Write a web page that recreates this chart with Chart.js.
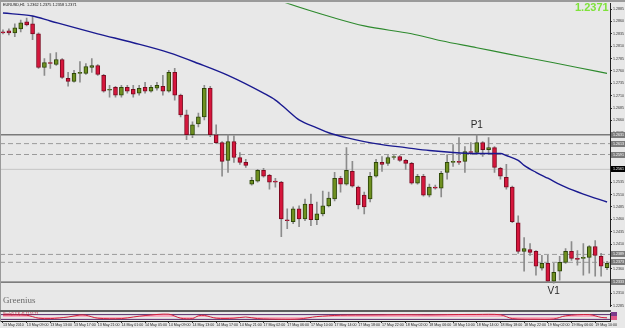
<!DOCTYPE html>
<html><head><meta charset="utf-8">
<script src="https://cdn.jsdelivr.net/npm/chart.js@4"></script>
<style>
html,body{margin:0;padding:0;background:#e8e8e8;width:625px;height:328px;overflow:hidden;position:relative;}
#main{position:absolute;left:0;top:0;}
#sub{position:absolute;left:0;top:310px;}
#topband{position:absolute;left:0;top:0;width:625px;height:2px;background:#9a9a9a;z-index:2;}
#leftband{position:absolute;left:0;top:0;width:1px;height:322px;background:#9a9a9a;z-index:2;}
#sep{position:absolute;left:0;top:310px;width:611px;height:2px;background:#5e5e5e;z-index:2;}
.t{position:absolute;white-space:nowrap;z-index:3;}
#last{left:575px;top:1px;font:bold 11px "Liberation Sans",Arial,sans-serif;color:#7ee23a;}
#sig{left:3px;top:295px;font:9px "Liberation Serif","DejaVu Serif",serif;color:#6a6a6a;}
</style></head>
<body>
<canvas id="main" width="625" height="310"></canvas>
<canvas id="sub" width="625" height="18"></canvas>
<div id="topband"></div><div id="leftband"></div><div id="sep"></div>
<div class="t" id="last">1.2371</div>
<div class="t" id="sig">Greenius</div>
<script>
// ---- data ----
const opens  = [1.2839,1.2841,1.2837,1.2845,1.2859,1.2855,1.2835,1.2767,1.2777,1.2773,1.2783,1.2745,1.2739,1.2755,1.2755,1.2767,1.2771,1.2751,1.2721,1.2727,1.2711,1.2727,1.2723,1.2715,1.2727,1.2719,1.2725,1.2729,1.2719,1.2757,1.2711,1.2671,1.2631,1.2653,1.2667,1.2725,1.2631,1.2615,1.2579,1.2617,1.2585,1.2575,1.2531,1.2537,1.2559,1.2549,1.2537,1.2535,1.2459,1.2455,1.2481,1.2461,1.2491,1.2459,1.2471,1.2487,1.2501,1.2543,1.2531,1.2557,1.2525,1.2509,1.2501,1.2547,1.2575,1.2573,1.2585,1.2587,1.2579,1.2573,1.2533,1.2547,1.2509,1.2525,1.2523,1.2555,1.2575,1.2577,1.2577,1.2597,1.2595,1.2615,1.2601,1.2605,1.2563,1.2545,1.2525,1.2453,1.2395,1.2399,1.2395,1.2361,1.2371,1.2335,1.2355,1.2373,1.2395,1.2381,1.2381,1.2383,1.2405,1.2385,1.2362];
const highs  = [1.2843,1.2845,1.2855,1.2863,1.2867,1.2871,1.2837,1.2785,1.2795,1.2797,1.2785,1.2757,1.2761,1.2779,1.2775,1.2785,1.2773,1.2753,1.2731,1.2729,1.2731,1.2731,1.2731,1.2731,1.2737,1.2731,1.2737,1.2751,1.2761,1.2765,1.2713,1.2681,1.2657,1.2675,1.2731,1.2729,1.2651,1.2617,1.2631,1.2629,1.2595,1.2581,1.2545,1.2561,1.2563,1.2551,1.2543,1.2537,1.2481,1.2485,1.2487,1.2501,1.2511,1.2495,1.2517,1.2515,1.2555,1.2547,1.2605,1.2577,1.2527,1.2515,1.2555,1.2581,1.2587,1.2589,1.2589,1.2589,1.2581,1.2575,1.2551,1.2551,1.2531,1.2529,1.2557,1.2591,1.2611,1.2625,1.2607,1.2615,1.2631,1.2617,1.2625,1.2607,1.2565,1.2571,1.2527,1.2467,1.2423,1.2411,1.2397,1.2387,1.2387,1.2371,1.2385,1.2401,1.2415,1.2397,1.2411,1.2407,1.2417,1.2391,1.2375];
const lows   = [1.2835,1.2833,1.2829,1.2839,1.2851,1.2823,1.2765,1.2751,1.2765,1.2771,1.2745,1.2729,1.2737,1.2737,1.2753,1.2757,1.2751,1.2717,1.2707,1.2707,1.2707,1.2715,1.2707,1.2711,1.2715,1.2717,1.2721,1.2711,1.2717,1.2701,1.2667,1.2621,1.2625,1.2647,1.2661,1.2627,1.2613,1.2547,1.2555,1.2575,1.2571,1.2565,1.2529,1.2535,1.2545,1.2521,1.2525,1.2425,1.2441,1.2451,1.2445,1.2457,1.2447,1.2449,1.2467,1.2485,1.2497,1.2515,1.2529,1.2525,1.2481,1.2471,1.2495,1.2545,1.2557,1.2569,1.2581,1.2577,1.2561,1.2531,1.2531,1.2507,1.2505,1.2521,1.2505,1.2541,1.2567,1.2571,1.2555,1.2591,1.2591,1.2587,1.2591,1.2555,1.2541,1.2521,1.2453,1.2391,1.2355,1.2387,1.2347,1.2357,1.2333,1.2331,1.2337,1.2371,1.2377,1.2367,1.2347,1.2351,1.2345,1.2345,1.2358];
const closes = [1.2837,1.2837,1.2847,1.2857,1.2853,1.2835,1.2767,1.2777,1.2775,1.2783,1.2747,1.2739,1.2755,1.2757,1.2769,1.2771,1.2753,1.2719,1.2723,1.2711,1.2727,1.2719,1.2713,1.2725,1.2719,1.2727,1.2731,1.2719,1.2757,1.2711,1.2671,1.2631,1.2651,1.2667,1.2725,1.2631,1.2615,1.2577,1.2617,1.2585,1.2575,1.2569,1.2539,1.2559,1.2547,1.2535,1.2535,1.2461,1.2457,1.2481,1.2461,1.2491,1.2459,1.2471,1.2487,1.2503,1.2543,1.2531,1.2559,1.2527,1.2489,1.2485,1.2547,1.2575,1.2571,1.2585,1.2587,1.2579,1.2573,1.2533,1.2547,1.2509,1.2525,1.2523,1.2553,1.2575,1.2577,1.2575,1.2597,1.2595,1.2615,1.2601,1.2605,1.2565,1.2547,1.2525,1.2455,1.2395,1.2401,1.2393,1.2365,1.2371,1.2335,1.2353,1.2373,1.2395,1.2381,1.2379,1.2383,1.2405,1.2387,1.2365,1.2371];

const timeLabels = ["13 May 2010","13 May 09:00","13 May 13:00","13 May 17:00","13 May 21:00","14 May 01:00","14 May 05:00","14 May 09:00","14 May 13:00","14 May 17:00","14 May 21:00","17 May 02:00","17 May 06:00","17 May 10:00","17 May 14:00","17 May 18:00","17 May 22:00","18 May 02:00","18 May 06:00","18 May 10:00","18 May 14:00","18 May 18:00","18 May 22:00","19 May 02:00","19 May 06:00","19 May 10:00"];

const priceTicks = [1.2285,1.2310,1.2335,1.2360,1.2385,1.2410,1.2435,1.2460,1.2485,1.2510,1.2535,1.2560,1.2585,1.2610,1.2635,1.2660,1.2685,1.2710,1.2735,1.2760,1.2785,1.2810,1.2835,1.2860,1.2885];

// moving averages read at candle positions
const blueMAIdx = [0,5,8,16,22,28,33,38,44,46,48,50,53,55,58,61,64,68,72,76,80,84,85,87,88,90,92,95,98,102];
const blueMAVal = [1.2877,1.2871,1.2861,1.2835,1.2817,1.2797,1.2775,1.2751,1.2715,1.2701,1.2681,1.2661,1.2645,1.2635,1.2625,1.2617,1.2611,1.2605,1.2599,1.2595,1.2593,1.2593,1.2589,1.2579,1.2569,1.2555,1.2543,1.2525,1.2511,1.2495];
const greenMAIdx = [44,47,56,61,69,74,80,85,91,97,102];
const greenMAVal = [1.2915,1.2901,1.2867,1.2851,1.2835,1.2821,1.2807,1.2795,1.2781,1.2767,1.2755];

// horizontal levels
const levelPrices = [1.2631,1.2613,1.2591,1.2561,1.2389,1.2373,1.2333];

// annotations
const markText  = ["P1","V1"];
const markIndex = [80,93];

// sub-window oscillator
const oscIdx = [0,4,6,8,11,13,14,16,20,22,24,28,30,32,33,34,36,39,41,43,47,50,53,57,62,68,72,76,80,84,86,90,93,95,99,101,102];
const oscVal = [75,72,35,30,50,75,72,35,30,50,68,85,35,30,65,70,35,35,50,30,22,25,55,72,75,78,76,80,82,78,30,22,25,65,80,45,40];
const oscLevels = [80,20];

const headerText = "EURUSD,H1  1.2362 1.2375 1.2358 1.2371";
const subText = "Stoch(5,3,3) 41.12 51.27";

// ---- styles ----
const GREEN='#6f9020', GREEN_B='#2c4608', RED='#d6163c', RED_B='#7c0a20', WICK='#8c8c8c';
const levelStyle = [
  {c:'#7a7a7a',w:1.5,d:[]},{c:'#9a9a9a',w:1,d:[5,3]},{c:'#9a9a9a',w:1,d:[5,3]},
  {c:'#c4c4c4',w:1,d:[]},{c:'#9a9a9a',w:1,d:[5,3]},{c:'#9a9a9a',w:1,d:[5,3]},{c:'#5a5a5a',w:1.3,d:[]}];
const levelBox = ['#7a7a7a','#7a7a7a','#7a7a7a','#000000','#7a7a7a','#7a7a7a','#7a7a7a'];

const idx = opens.map((_,i)=>i);
const up = idx.map(i=>closes[i]>=opens[i]);
const XMIN=-0.5, XMAX=102.5;

const levelSets = levelPrices.map((p,k)=>({
  type:'line', data:[{x:XMIN,y:p},{x:XMAX,y:p}], borderColor:levelStyle[k].c,
  borderWidth:levelStyle[k].w, borderDash:levelStyle[k].d, pointRadius:0, order:5
}));

const overlay = {
  id:'overlay',
  afterDraw(chart){
    const ctx=chart.ctx, ys=chart.scales.y, xs=chart.scales.x;
    ctx.save();
    ctx.font='3.6px "Liberation Sans"';
    ctx.textBaseline='middle'; ctx.textAlign='left';
    levelPrices.forEach((p,k)=>{
      const py=ys.getPixelForValue(p);
      ctx.fillStyle=levelBox[k];
      ctx.fillRect(611,Math.round(py)-3,14,6);
      ctx.fillStyle='#ffffff';
      ctx.fillText(p.toFixed(4),613,py);
    });
    ctx.font='10px "Liberation Sans"'; ctx.fillStyle='#2a2a2a'; ctx.textAlign='center';
    ctx.textBaseline='bottom';
    ctx.fillText(markText[0], xs.getPixelForValue(markIndex[0]), ys.getPixelForValue(highs[markIndex[0]])-4);
    ctx.textBaseline='top';
    ctx.fillText(markText[1], xs.getPixelForValue(markIndex[1]), ys.getPixelForValue(lows[markIndex[1]])+3);
    ctx.font='3.8px "Liberation Sans"'; ctx.fillStyle='#111'; ctx.textAlign='left'; ctx.textBaseline='top';
    ctx.fillText(headerText,3,3);
    ctx.restore();
  }
};

new Chart(document.getElementById('main'),{
  data:{datasets:[
    {type:'line', data:blueMAIdx.map((x,i)=>({x,y:blueMAVal[i]})), borderColor:'#1a1a90', borderWidth:1.4, pointRadius:0, cubicInterpolationMode:'monotone', order:0},
    {type:'line', data:greenMAIdx.map((x,i)=>({x,y:greenMAVal[i]})), borderColor:'#2e8a2e', borderWidth:1.1, pointRadius:0, cubicInterpolationMode:'monotone', order:0},
    {type:'bar', data:idx.map(i=>({x:i,y:[opens[i],closes[i]]})), backgroundColor:idx.map(i=>up[i]?GREEN:RED),
     borderColor:idx.map(i=>up[i]?GREEN_B:RED_B), borderWidth:1, borderSkipped:false, barThickness:4, minBarLength:1, grouped:false, order:1},
    {type:'bar', data:idx.map(i=>({x:i,y:[lows[i],highs[i]]})), backgroundColor:WICK, borderWidth:0, barThickness:1, grouped:false, order:2},
    ...levelSets
  ]},
  options:{
    animation:false, responsive:false, devicePixelRatio:1,
    layout:{padding:{top:2,left:0,right:0,bottom:1}},
    plugins:{legend:{display:false},tooltip:{enabled:false}},
    scales:{
      x:{type:'linear',min:XMIN,max:XMAX,offset:false,display:false},
      y:{position:'right',min:1.2283,max:1.2897,
        afterBuildTicks:s=>{s.ticks=priceTicks.map(v=>({value:v}));},
        afterFit:s=>{s.width=15;},
        ticks:{autoSkip:false,padding:1,color:'#333',font:{size:3.6,family:'Liberation Sans'},callback:v=>Number(v).toFixed(4)},
        grid:{drawOnChartArea:false,drawTicks:true,tickLength:2,color:'#333'},
        border:{display:true,color:'#222',width:1}}
    }
  },
  plugins:[overlay]
});

const subOverlay = {
  id:'subOverlay',
  afterDraw(chart){
    const ctx=chart.ctx, a=chart.chartArea;
    ctx.save();
    ctx.font='3.2px "Liberation Sans"'; ctx.fillStyle='#c01030'; ctx.textBaseline='top'; ctx.textAlign='left';
    ctx.fillText(subText,3,a.top);
    ctx.fillStyle='#7a3a8a'; ctx.fillRect(611,a.top-1,6,4);
    ctx.fillStyle='#e05a8a'; ctx.fillRect(611,a.top+3,6,4);
    ctx.restore();
  }
};

new Chart(document.getElementById('sub'),{
  type:'line',
  data:{datasets:[
    {data:oscIdx.map((x,i)=>({x,y:oscVal[i]})), borderColor:'#d0203c', borderWidth:1, pointRadius:0, tension:0.3,
     fill:{value:50}, backgroundColor:'rgba(250,160,185,0.85)', order:0},
    ...oscLevels.map(v=>({data:[{x:XMIN,y:v},{x:XMAX,y:v}], borderColor:'#5a2a6a', borderWidth:1, pointRadius:0, order:1}))
  ]},
  options:{
    animation:false, responsive:false, devicePixelRatio:1,
    layout:{padding:{top:3,left:0,right:0,bottom:0}},
    plugins:{legend:{display:false},tooltip:{enabled:false}},
    scales:{
      x:{type:'linear',min:XMIN,max:XMAX,offset:false,
        afterBuildTicks:s=>{s.ticks=timeLabels.map((_,k)=>({value:k*4}));},
        afterFit:s=>{s.height=7;},
        ticks:{autoSkip:false,maxRotation:0,minRotation:0,align:'start',padding:0,color:'#222',font:{size:3.6,family:'Liberation Sans'},callback:v=>timeLabels[Math.round(v/4)]},
        grid:{drawOnChartArea:false,drawTicks:true,tickLength:2,color:'#333'},
        border:{display:true,color:'#222',width:1}},
      y:{position:'right',min:0,max:100,afterFit:s=>{s.width=15;},ticks:{display:false},grid:{display:false},border:{display:true,color:'#222'}}
    }
  },
  plugins:[subOverlay]
});
</script>
</body></html>
